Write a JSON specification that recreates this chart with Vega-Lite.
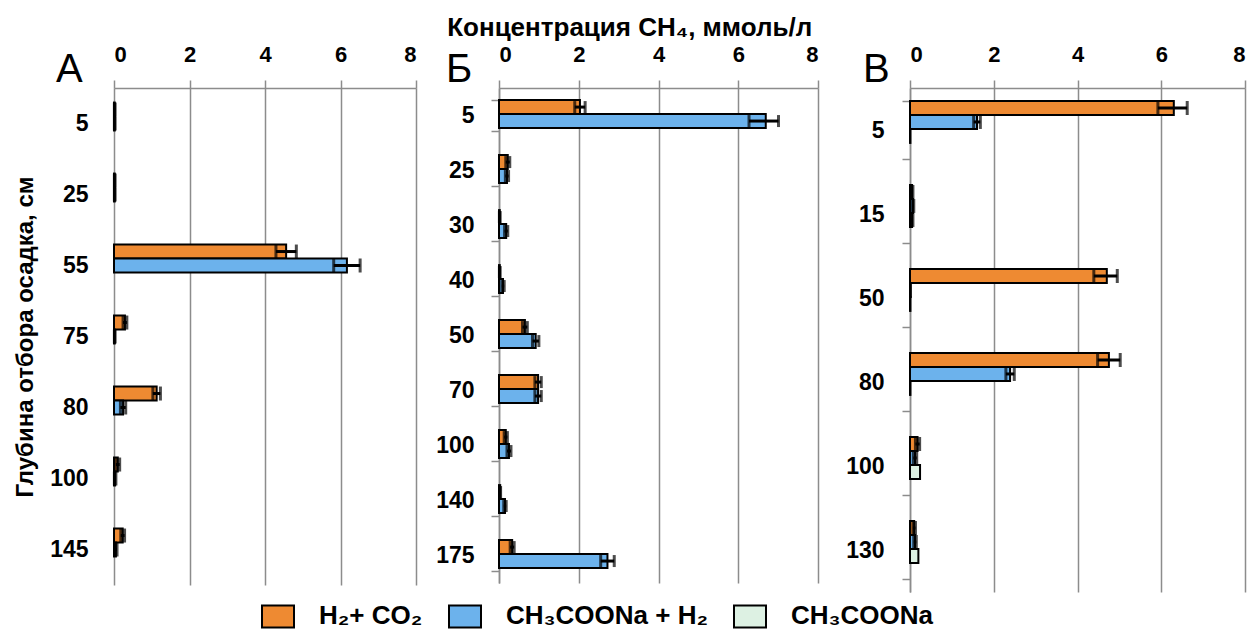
{
  "$schema": "https://vega.github.io/schema/vega-lite/v6.json",
  "background": "white",
  "padding": {"left": 13, "top": 15, "right": 5, "bottom": 2},
  "title": {"text": "Концентрация CH₄, ммоль/л", "font": "Liberation Sans", "fontSize": 26, "fontWeight": "bold", "color": "black", "anchor": "middle", "dx": 0, "offset": 2},
  "datasets": {
    "a": [
      {"depth": "5", "series": "H₂+ CO₂", "value": 0.02, "lo": 0.01, "hi": 0.03},
      {"depth": "5", "series": "CH₃COONa + H₂", "value": 0.02, "lo": 0.01, "hi": 0.03},
      {"depth": "25", "series": "H₂+ CO₂", "value": 0.02, "lo": 0.01, "hi": 0.03},
      {"depth": "25", "series": "CH₃COONa + H₂", "value": 0.02, "lo": 0.01, "hi": 0.03},
      {"depth": "55", "series": "H₂+ CO₂", "value": 4.56, "lo": 4.29, "hi": 4.83},
      {"depth": "55", "series": "CH₃COONa + H₂", "value": 6.17, "lo": 5.82, "hi": 6.52},
      {"depth": "75", "series": "H₂+ CO₂", "value": 0.29, "lo": 0.24, "hi": 0.34},
      {"depth": "75", "series": "CH₃COONa + H₂", "value": 0.02, "lo": 0.01, "hi": 0.03},
      {"depth": "80", "series": "H₂+ CO₂", "value": 1.13, "lo": 1.03, "hi": 1.23},
      {"depth": "80", "series": "CH₃COONa + H₂", "value": 0.24, "lo": 0.17, "hi": 0.31},
      {"depth": "100", "series": "H₂+ CO₂", "value": 0.1, "lo": 0.05, "hi": 0.15},
      {"depth": "100", "series": "CH₃COONa + H₂", "value": 0.03, "lo": 0.01, "hi": 0.05},
      {"depth": "145", "series": "H₂+ CO₂", "value": 0.23, "lo": 0.18, "hi": 0.28},
      {"depth": "145", "series": "CH₃COONa + H₂", "value": 0.05, "lo": 0.02, "hi": 0.08}
    ],
    "b": [
      {"depth": "5", "series": "H₂+ CO₂", "value": 2.03, "lo": 1.9, "hi": 2.16},
      {"depth": "5", "series": "CH₃COONa + H₂", "value": 6.69, "lo": 6.27, "hi": 7.01},
      {"depth": "25", "series": "H₂+ CO₂", "value": 0.22, "lo": 0.17, "hi": 0.27},
      {"depth": "25", "series": "CH₃COONa + H₂", "value": 0.2, "lo": 0.16, "hi": 0.24},
      {"depth": "30", "series": "H₂+ CO₂", "value": 0.02, "lo": 0.01, "hi": 0.03},
      {"depth": "30", "series": "CH₃COONa + H₂", "value": 0.18, "lo": 0.14, "hi": 0.22},
      {"depth": "40", "series": "H₂+ CO₂", "value": 0.02, "lo": 0.01, "hi": 0.03},
      {"depth": "40", "series": "CH₃COONa + H₂", "value": 0.1, "lo": 0.07, "hi": 0.13},
      {"depth": "50", "series": "H₂+ CO₂", "value": 0.65, "lo": 0.59, "hi": 0.71},
      {"depth": "50", "series": "CH₃COONa + H₂", "value": 0.92, "lo": 0.84, "hi": 1.0},
      {"depth": "70", "series": "H₂+ CO₂", "value": 0.98, "lo": 0.9, "hi": 1.06},
      {"depth": "70", "series": "CH₃COONa + H₂", "value": 0.98, "lo": 0.9, "hi": 1.06},
      {"depth": "100", "series": "H₂+ CO₂", "value": 0.17, "lo": 0.13, "hi": 0.21},
      {"depth": "100", "series": "CH₃COONa + H₂", "value": 0.25, "lo": 0.2, "hi": 0.3},
      {"depth": "140", "series": "H₂+ CO₂", "value": 0.03, "lo": 0.02, "hi": 0.04},
      {"depth": "140", "series": "CH₃COONa + H₂", "value": 0.15, "lo": 0.12, "hi": 0.18},
      {"depth": "175", "series": "H₂+ CO₂", "value": 0.33, "lo": 0.28, "hi": 0.38},
      {"depth": "175", "series": "CH₃COONa + H₂", "value": 2.72, "lo": 2.55, "hi": 2.89}
    ],
    "v": [
      {"depth": "5", "series": "H₂+ CO₂", "value": 6.3, "lo": 5.92, "hi": 6.62},
      {"depth": "5", "series": "CH₃COONa + H₂", "value": 1.6, "lo": 1.52, "hi": 1.68},
      {"depth": "5", "series": "CH₃COONa", "value": 0.01, "lo": null, "hi": null},
      {"depth": "15", "series": "H₂+ CO₂", "value": 0.05, "lo": 0.03, "hi": 0.07},
      {"depth": "15", "series": "CH₃COONa + H₂", "value": 0.07, "lo": 0.05, "hi": 0.09},
      {"depth": "15", "series": "CH₃COONa", "value": 0.05, "lo": 0.03, "hi": 0.07},
      {"depth": "50", "series": "H₂+ CO₂", "value": 4.7, "lo": 4.39, "hi": 4.95},
      {"depth": "50", "series": "CH₃COONa + H₂", "value": 0.02, "lo": null, "hi": null},
      {"depth": "50", "series": "CH₃COONa", "value": 0.01, "lo": null, "hi": null},
      {"depth": "80", "series": "H₂+ CO₂", "value": 4.75, "lo": 4.48, "hi": 5.02},
      {"depth": "80", "series": "CH₃COONa + H₂", "value": 2.39, "lo": 2.29, "hi": 2.49},
      {"depth": "80", "series": "CH₃COONa", "value": 0.01, "lo": null, "hi": null},
      {"depth": "100", "series": "H₂+ CO₂", "value": 0.18, "lo": 0.13, "hi": 0.23},
      {"depth": "100", "series": "CH₃COONa + H₂", "value": 0.12, "lo": 0.08, "hi": 0.16},
      {"depth": "100", "series": "CH₃COONa", "value": 0.24, "lo": null, "hi": null},
      {"depth": "130", "series": "H₂+ CO₂", "value": 0.1, "lo": 0.07, "hi": 0.13},
      {"depth": "130", "series": "CH₃COONa + H₂", "value": 0.12, "lo": 0.09, "hi": 0.15},
      {"depth": "130", "series": "CH₃COONa", "value": 0.2, "lo": null, "hi": null}
    ]
  },
  "bounds": "flush",
  "spacing": 83,
  "hconcat": [
    {
      "width": 302,
      "height": 497,
      "data": {"name": "a"},
      "title": {"text": "А", "anchor": "start", "frame": "group", "font": "Liberation Sans", "fontSize": 40, "fontWeight": "normal", "color": "black", "baseline": "alphabetic", "offset": 0, "dx": -58, "dy": 79},
      "encoding": {
        "y": {"field": "depth", "type": "nominal", "sort": ["5", "25", "55", "75", "80", "100", "145"],
          "scale": {"paddingInner": 0.41, "paddingOuter": 0.205},
          "axis": {"title": "Глубина отбора осадка, см", "titleFont": "Liberation Sans", "titleFontSize": 24, "titleFontWeight": "bold", "titleColor": "black", "titlePadding": 12, "ticks": false, "tickSize": 0, "domain": false, "labelFontSize": 23, "labelPadding": 26}},
        "yOffset": {"field": "series", "type": "nominal", "sort": ["H₂+ CO₂", "CH₃COONa + H₂", "CH₃COONa"]}
      },
      "layer": [
        {"mark": {"type": "bar", "stroke": "black", "strokeWidth": 2},
          "encoding": {
            "x": {"field": "value", "type": "quantitative", "scale": {"domain": [0, 8], "nice": false},
              "axis": {"orient": "top", "values": [0, 2, 4, 6, 8], "title": null, "grid": true, "gridWidth": 1.5, "domainWidth": 1.5, "tickSize": 8, "tickWidth": 1.5, "labelFontSize": 22, "labelPadding": 14}},
            "color": {"field": "series", "type": "nominal",
              "scale": {"domain": ["H₂+ CO₂", "CH₃COONa + H₂", "CH₃COONa"], "range": ["#EE8A32", "#6CB2EC", "#DDF1E3"]},
              "legend": {"orient": "none", "legendX": 147, "legendY": 511, "direction": "horizontal", "title": null,
                "symbolType": "M-1,-0.69L1,-0.69L1,0.69L-1,0.69Z", "symbolSize": 1024, "symbolStrokeColor": "black", "symbolStrokeWidth": 2, "symbolOpacity": 1,
                "labelFont": "Liberation Sans", "labelFontSize": 26, "labelFontWeight": "bold", "labelColor": "black", "labelOffset": 24, "columnPadding": 22, "labelLimit": 400}}
          }},
        {"mark": {"type": "rule", "color": "black", "strokeWidth": 3},
          "encoding": {"x": {"field": "lo", "type": "quantitative"}, "x2": {"field": "hi"}}},
        {"mark": {"type": "tick", "color": "black", "thickness": 3, "size": 14},
          "encoding": {"x": {"field": "lo", "type": "quantitative"}}},
        {"mark": {"type": "tick", "color": "black", "thickness": 3, "size": 14},
          "encoding": {"x": {"field": "hi", "type": "quantitative"}}}
      ]
    },
    {
      "bounds": "flush",
      "spacing": 92,
      "hconcat": [
        {
          "width": 319,
          "height": 495,
          "data": {"name": "b"},
          "title": {"text": "Б", "anchor": "start", "frame": "group", "font": "Liberation Sans", "fontSize": 40, "fontWeight": "normal", "color": "black", "baseline": "alphabetic", "offset": 0, "dx": -53, "dy": 79},
          "encoding": {
            "y": {"field": "depth", "type": "nominal", "sort": ["5", "25", "30", "40", "50", "70", "100", "140", "175"],
              "scale": {"paddingInner": 0.44, "paddingOuter": 0.22},
              "axis": {"title": null, "tickBand": "extent", "tickSize": 8, "tickWidth": 1.5, "domainWidth": 1.5, "labelFontSize": 23, "labelPadding": 17}},
            "yOffset": {"field": "series", "type": "nominal", "sort": ["H₂+ CO₂", "CH₃COONa + H₂", "CH₃COONa"]}
          },
          "layer": [
            {"mark": {"type": "bar", "stroke": "black", "strokeWidth": 2},
              "encoding": {
                "x": {"field": "value", "type": "quantitative", "scale": {"domain": [0, 8], "nice": false},
                  "axis": {"orient": "top", "values": [0, 2, 4, 6, 8], "title": null, "grid": true, "gridWidth": 1.5, "domainWidth": 1.5, "tickSize": 8, "tickWidth": 1.5, "labelFontSize": 22, "labelPadding": 14}},
                "color": {"field": "series", "type": "nominal",
                  "scale": {"domain": ["H₂+ CO₂", "CH₃COONa + H₂", "CH₃COONa"], "range": ["#EE8A32", "#6CB2EC", "#DDF1E3"]}}
              }},
            {"mark": {"type": "rule", "color": "black", "strokeWidth": 3},
              "encoding": {"x": {"field": "lo", "type": "quantitative"}, "x2": {"field": "hi"}}},
            {"mark": {"type": "tick", "color": "black", "thickness": 3, "size": 12},
              "encoding": {"x": {"field": "lo", "type": "quantitative"}}},
            {"mark": {"type": "tick", "color": "black", "thickness": 3, "size": 12},
              "encoding": {"x": {"field": "hi", "type": "quantitative"}}}
          ]
        },
        {
          "width": 335,
          "height": 504,
          "data": {"name": "v"},
          "title": {"text": "В", "anchor": "start", "frame": "group", "font": "Liberation Sans", "fontSize": 40, "fontWeight": "normal", "color": "black", "baseline": "alphabetic", "offset": 0, "dx": -47, "dy": 79},
          "encoding": {
            "y": {"field": "depth", "type": "nominal", "sort": ["5", "15", "50", "80", "100", "130"],
              "scale": {"paddingInner": 0.31, "paddingOuter": 0.155},
              "axis": {"title": null, "tickBand": "extent", "tickSize": 8, "tickWidth": 1.5, "domainWidth": 1.5, "labelFontSize": 23, "labelPadding": 18}},
            "yOffset": {"field": "series", "type": "nominal", "sort": ["H₂+ CO₂", "CH₃COONa + H₂", "CH₃COONa"]}
          },
          "layer": [
            {"mark": {"type": "bar", "stroke": "black", "strokeWidth": 2},
              "encoding": {
                "x": {"field": "value", "type": "quantitative", "scale": {"domain": [0, 8], "nice": false},
                  "axis": {"orient": "top", "values": [0, 2, 4, 6, 8], "title": null, "grid": true, "gridWidth": 1.5, "domainWidth": 1.5, "tickSize": 8, "tickWidth": 1.5, "labelFontSize": 22, "labelPadding": 14}},
                "color": {"field": "series", "type": "nominal",
                  "scale": {"domain": ["H₂+ CO₂", "CH₃COONa + H₂", "CH₃COONa"], "range": ["#EE8A32", "#6CB2EC", "#DDF1E3"]}}
              }},
            {"mark": {"type": "rule", "color": "black", "strokeWidth": 3},
              "encoding": {"x": {"field": "lo", "type": "quantitative"}, "x2": {"field": "hi"}}},
            {"mark": {"type": "tick", "color": "black", "thickness": 3, "size": 14},
              "encoding": {"x": {"field": "lo", "type": "quantitative"}}},
            {"mark": {"type": "tick", "color": "black", "thickness": 3, "size": 14},
              "encoding": {"x": {"field": "hi", "type": "quantitative"}}}
          ]
        }
      ]
    }
  ],
  "config": {
    "view": {"stroke": null},
    "font": "Liberation Sans",
    "axis": {"labelFont": "Liberation Sans", "labelFontWeight": "bold", "labelColor": "black", "domainColor": "#8c8c8c", "tickColor": "#8c8c8c", "gridColor": "#8c8c8c", "gridOpacity": 1}
  }
}
